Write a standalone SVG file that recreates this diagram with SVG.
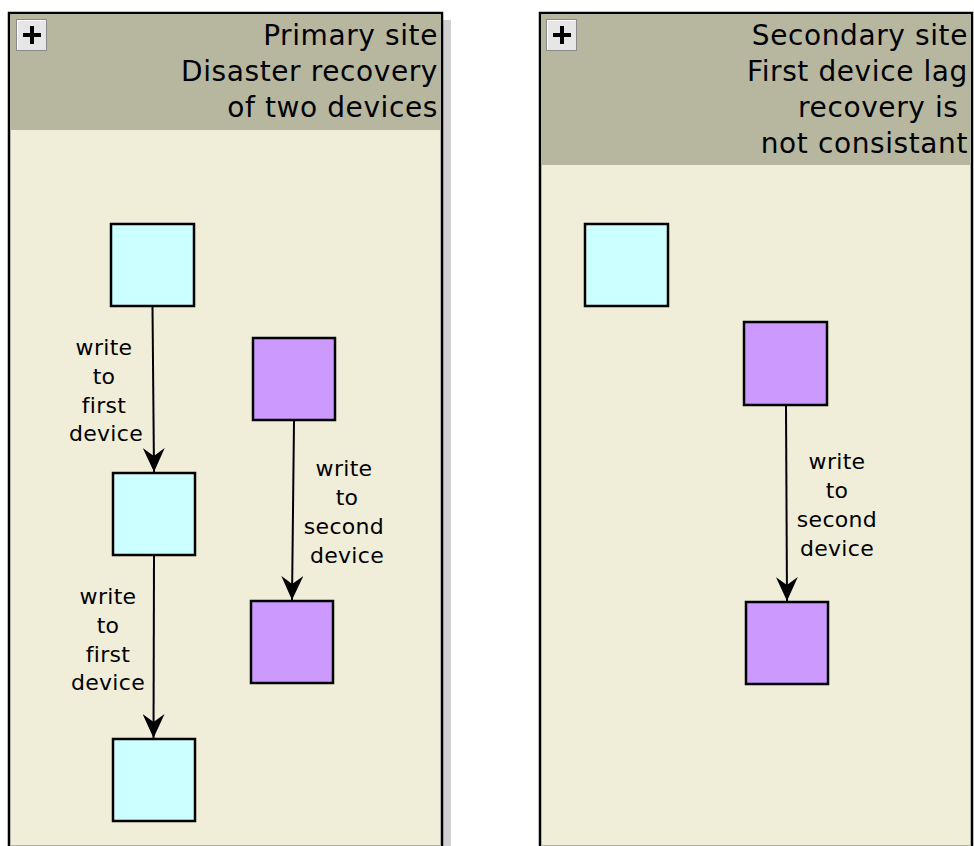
<svg xmlns="http://www.w3.org/2000/svg" width="974" height="846" viewBox="0 0 974 846">
  <style>
    .frame { fill: #f0eed9; stroke: #000; stroke-width: 2.5; }
    .head { fill: #b7b7a0; }
    .title { font-family: "DejaVu Sans", "Liberation Sans", sans-serif; font-size: 28px; letter-spacing: 0.6px; fill: #000; text-anchor: end; }
    .lbl { font-family: "DejaVu Sans", "Liberation Sans", sans-serif; font-size: 22px; letter-spacing: 0.3px; fill: #000; text-anchor: middle; }
    .cyan { fill: #ccffff; stroke: #000; stroke-width: 2.5; }
    .violet { fill: #cc99ff; stroke: #000; stroke-width: 2.5; }
    .edge { stroke: #000; stroke-width: 2; fill: none; marker-end: url(#arrow); }
    .btn { fill: #e6e6e6; stroke: #8a8a8a; stroke-width: 1; }
    .btnhi { fill: none; stroke: #ffffff; stroke-width: 1; }
    .plus { stroke: #000; stroke-width: 4; }
  </style>
  <defs>
    <marker id="arrow" markerUnits="userSpaceOnUse" viewBox="0 0 24 22" markerWidth="24" markerHeight="22" refX="24" refY="11" orient="auto">
      <path d="M24,11 L0,0 L8,11 L0,22 Z" fill="#000"/>
    </marker>
  </defs>

  <!-- primary site container -->
  <g id="primary-site">
    <rect x="443" y="20" width="8" height="826" fill="#d0d0d0"/>
    <rect class="frame" x="9" y="13" width="433" height="845"/>
    <rect class="head" x="10.2" y="14.2" width="430.6" height="115.8"/>
    <line x1="10" y1="845.5" x2="441" y2="845.5" stroke="#b0b0a0" stroke-width="1"/>
    <g id="primary-toggle">
      <rect class="btn" x="16.5" y="19.5" width="30" height="31"/>
      <path class="btnhi" d="M17.5,49.5 V20.5 H45.5"/>
      <line class="plus" x1="23" y1="35" x2="41" y2="35"/>
      <line class="plus" x1="32" y1="26" x2="32" y2="44"/>
    </g>
    <text class="title" x="438" y="45">Primary site</text>
    <text class="title" x="438" y="81">Disaster recovery</text>
    <text class="title" x="438" y="117">of two devices</text>
  </g>

  <!-- secondary site container -->
  <g id="secondary-site">
    <rect class="frame" x="540" y="13" width="432" height="845"/>
    <rect class="head" x="541.2" y="14.2" width="429.6" height="150.8"/>
    <line x1="541" y1="845.5" x2="971" y2="845.5" stroke="#b0b0a0" stroke-width="1"/>
    <g id="secondary-toggle">
      <rect class="btn" x="546.5" y="19.5" width="30" height="31"/>
      <path class="btnhi" d="M547.5,49.5 V20.5 H575.5"/>
      <line class="plus" x1="553" y1="35" x2="571" y2="35"/>
      <line class="plus" x1="562" y1="26" x2="562" y2="44"/>
    </g>
    <text class="title" x="968" y="45">Secondary site</text>
    <text class="title" x="968" y="81">First device lag</text>
    <text class="title" x="968" y="117" xml:space="preserve">recovery is </text>
    <text class="title" x="968" y="153">not consistant</text>
  </g>

  <!-- devices -->
  <g id="p-first-a"><rect class="cyan" x="111" y="224" width="83" height="82"/></g>
  <g id="p-first-b"><rect class="cyan" x="113" y="473" width="82" height="82"/></g>
  <g id="p-first-c"><rect class="cyan" x="113" y="739" width="82" height="82"/></g>
  <g id="p-second-a"><rect class="violet" x="253" y="338" width="82" height="82"/></g>
  <g id="p-second-b"><rect class="violet" x="251" y="601" width="82" height="82"/></g>
  <g id="s-first-a"><rect class="cyan" x="585" y="224" width="83" height="82"/></g>
  <g id="s-second-a"><rect class="violet" x="744" y="322" width="83" height="83"/></g>
  <g id="s-second-b"><rect class="violet" x="746" y="602" width="82" height="82"/></g>

  <!-- connectors -->
  <g id="connectors">
    <line class="edge" x1="152.5" y1="307" x2="154" y2="472"/>
    <line class="edge" x1="154" y1="556" x2="153.5" y2="738"/>
    <line class="edge" x1="294" y1="421" x2="292" y2="600"/>
    <line class="edge" x1="786" y1="406" x2="787" y2="601"/>
    <g id="edge-labels">
      <text class="lbl" x="104" y="355">write</text>
      <text class="lbl" x="104" y="384">to</text>
      <text class="lbl" x="104" y="413">first</text>
      <text class="lbl" x="106" y="441">device</text>
      <text class="lbl" x="108" y="604">write</text>
      <text class="lbl" x="108" y="633">to</text>
      <text class="lbl" x="108" y="662">first</text>
      <text class="lbl" x="108" y="690">device</text>
      <text class="lbl" x="344" y="476">write</text>
      <text class="lbl" x="347" y="505">to</text>
      <text class="lbl" x="344" y="534">second</text>
      <text class="lbl" x="347" y="563">device</text>
      <text class="lbl" x="837" y="469">write</text>
      <text class="lbl" x="837" y="498">to</text>
      <text class="lbl" x="837" y="527">second</text>
      <text class="lbl" x="837" y="556">device</text>
    </g>
  </g>
</svg>
